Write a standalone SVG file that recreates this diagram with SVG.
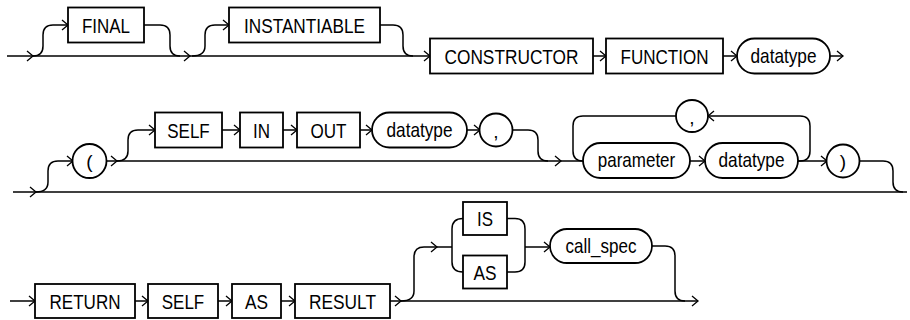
<svg xmlns="http://www.w3.org/2000/svg" width="910" height="320" viewBox="0 0 910 320">
<defs>
<marker id="ah" markerWidth="10" markerHeight="12" refX="7" refY="5" orient="auto" markerUnits="userSpaceOnUse" overflow="visible">
<path d="M1,0 L7,5 L1,10" fill="none" stroke="#000" stroke-width="1.3"/>
</marker>
<style>
.b{fill:#fff;stroke:#000;stroke-width:1.8}
.t{font-family:"Liberation Sans",Arial,sans-serif;font-size:21px;fill:#000;text-anchor:middle}
.p{font-family:"Liberation Sans",Arial,sans-serif;font-size:19px;fill:#000;text-anchor:middle}
.c{fill:none;stroke:#000;stroke-width:1.5}
.m{marker-end:url(#ah)}
</style>
</defs>
<rect width="910" height="320" fill="#fff"/>
<g id="connectors">
<path class="c m" d="M7,56 L33,56"/>
<path class="c m" d="M33,56 L190,56"/>
<path class="c m" d="M190,56 L430,56"/>
<path class="c m" d="M33,56 Q43,56 43,46 L43,35 Q43,25 53,25 L68,25"/>
<path class="c" d="M144,25 L160,25 Q170,25 170,35 L170,46 Q170,56 180,56"/>
<path class="c m" d="M192,56 Q205,56 205,46 L205,35 Q205,25 215,25 L229,25"/>
<path class="c" d="M380,25 L393,25 Q403,25 403,35 L403,46 Q403,56 413,56"/>
<path class="c m" d="M593,56 L606,56"/>
<path class="c m" d="M723,56 L737,56"/>
<path class="c m" d="M830,56 L843,56"/>
<path class="c m" d="M13,192 L36,192"/>
<path class="c" d="M36,192 L907,192"/>
<path class="c m" d="M36,192 Q48,192 48,182 L48,171 Q48,161 58,161 L73,161"/>
<path class="c m" d="M106,161 L117,161"/>
<path class="c m" d="M117,161 L561,161"/>
<path class="c" d="M561,161 L583,161"/>
<path class="c m" d="M117,161 Q128,161 128,151 L128,140 Q128,130 138,130 L155,130"/>
<path class="c m" d="M222,130 L240,130"/>
<path class="c m" d="M283,130 L297,130"/>
<path class="c m" d="M360,130 L372,130"/>
<path class="c m" d="M467,130 L480,130"/>
<path class="c" d="M512,130 L528,130 Q538,130 538,140 L538,151 Q538,161 548,161"/>
<path class="c m" d="M690,161 L705,161"/>
<path class="c m" d="M798,161 L827,161"/>
<path class="c m" d="M798,161 L800,161 Q810,161 810,151 L810,126 Q810,116 800,116 L708,116"/>
<path class="c" d="M676,116 L583,116 Q573,116 573,126 L573,151 Q573,161 583,161"/>
<path class="c" d="M859,161 L883,161 Q893,161 893,171 L893,182 Q893,192 903,192"/>
<path class="c m" d="M10,301 L35,301"/>
<path class="c m" d="M135,301 L148,301"/>
<path class="c m" d="M218,301 L232,301"/>
<path class="c m" d="M281,301 L295,301"/>
<path class="c m" d="M390,301 L401,301"/>
<path class="c m" d="M401,301 L698,301"/>
<path class="c m" d="M401,301 Q414,301 414,291 L414,257 Q414,247 424,247 L437,247"/>
<path class="c" d="M437,247 L452,247"/>
<path class="c" d="M463,218.5 Q452,218.5 452,229 L452,262 Q452,272 463,272"/>
<path class="c" d="M507,218.5 L515,218.5 Q525,218.5 525,229 L525,262 Q525,272 515,272 L507,272"/>
<path class="c m" d="M525,247 L550,247"/>
<path class="c" d="M652,246 L665,246 Q675,246 675,256 L675,291 Q675,301 685,301"/>
</g>
<g id="n-final"><rect class="b" x="68" y="7.5" width="76" height="35"/><text class="t" x="106" y="32.5" textLength="48" lengthAdjust="spacingAndGlyphs">FINAL</text></g>
<g id="n-instantiable"><rect class="b" x="229" y="7.5" width="151" height="35"/><text class="t" x="304.5" y="32.5" textLength="121" lengthAdjust="spacingAndGlyphs">INSTANTIABLE</text></g>
<g id="n-constructor"><rect class="b" x="430" y="38.5" width="163" height="35"/><text class="t" x="511.5" y="63.5" textLength="134" lengthAdjust="spacingAndGlyphs">CONSTRUCTOR</text></g>
<g id="n-function"><rect class="b" x="606" y="38.5" width="117" height="35"/><text class="t" x="664.5" y="63.5" textLength="88" lengthAdjust="spacingAndGlyphs">FUNCTION</text></g>
<g id="n-datatype1"><rect class="b" x="737" y="38.5" width="93" height="35" rx="17.5"/><text class="t" x="783.5" y="62.5" textLength="66" lengthAdjust="spacingAndGlyphs">datatype</text></g>
<g id="n-lparen"><circle class="b" cx="89.5" cy="161" r="17"/><text class="p" x="89.5" y="167.5">(</text></g>
<g id="n-self2"><rect class="b" x="155" y="112.5" width="67" height="35"/><text class="t" x="188.5" y="137.5" textLength="42.5" lengthAdjust="spacingAndGlyphs">SELF</text></g>
<g id="n-in"><rect class="b" x="240" y="112.5" width="43" height="35"/><text class="t" x="261.5" y="137.5" textLength="17" lengthAdjust="spacingAndGlyphs">IN</text></g>
<g id="n-out"><rect class="b" x="297" y="112.5" width="63" height="35"/><text class="t" x="328.5" y="137.5" textLength="36" lengthAdjust="spacingAndGlyphs">OUT</text></g>
<g id="n-datatype2"><rect class="b" x="372" y="112.5" width="95" height="35" rx="17.5"/><text class="t" x="419.5" y="136.5" textLength="66" lengthAdjust="spacingAndGlyphs">datatype</text></g>
<g id="n-comma1"><circle class="b" cx="496" cy="130" r="16.5"/><text class="p" x="496" y="138">,</text></g>
<g id="n-comma2"><circle class="b" cx="692" cy="116" r="16"/><text class="p" x="692" y="124">,</text></g>
<g id="n-parameter"><rect class="b" x="583" y="143" width="107" height="35" rx="17.5"/><text class="t" x="636.5" y="167" textLength="77.5" lengthAdjust="spacingAndGlyphs">parameter</text></g>
<g id="n-datatype3"><rect class="b" x="705" y="143" width="93" height="35" rx="17.5"/><text class="t" x="751.5" y="167" textLength="66" lengthAdjust="spacingAndGlyphs">datatype</text></g>
<g id="n-rparen"><circle class="b" cx="843" cy="161" r="16.5"/><text class="p" x="843" y="167.5">)</text></g>
<g id="n-return"><rect class="b" x="35" y="284" width="100" height="34"/><text class="t" x="85" y="308.5" textLength="71" lengthAdjust="spacingAndGlyphs">RETURN</text></g>
<g id="n-self3"><rect class="b" x="148" y="284" width="70" height="34"/><text class="t" x="183" y="308.5" textLength="42.5" lengthAdjust="spacingAndGlyphs">SELF</text></g>
<g id="n-as1"><rect class="b" x="232" y="284" width="49" height="34"/><text class="t" x="256.5" y="308.5" textLength="23" lengthAdjust="spacingAndGlyphs">AS</text></g>
<g id="n-result"><rect class="b" x="295" y="284" width="95" height="34"/><text class="t" x="342.5" y="308.5" textLength="67" lengthAdjust="spacingAndGlyphs">RESULT</text></g>
<g id="n-is"><rect class="b" x="463" y="202" width="44" height="33"/><text class="t" x="485" y="226" textLength="16" lengthAdjust="spacingAndGlyphs">IS</text></g>
<g id="n-as2"><rect class="b" x="463" y="255.5" width="44" height="33"/><text class="t" x="485" y="279.5" textLength="23" lengthAdjust="spacingAndGlyphs">AS</text></g>
<g id="n-callspec"><rect class="b" x="550" y="229" width="102" height="34" rx="17"/><text class="t" x="601" y="252.5" textLength="71" lengthAdjust="spacingAndGlyphs">call_spec</text></g>
</svg>
